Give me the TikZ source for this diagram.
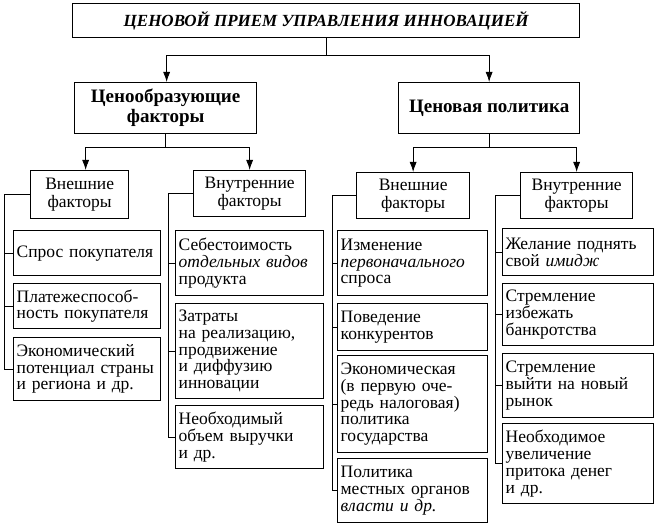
\documentclass[tikz,border=0pt]{standalone}
\usepackage{fontspec}
\setmainfont{Liberation Serif}
\usetikzlibrary{arrows.meta,positioning}
\tikzset{
  head/.style={
      draw, line width=1.3pt,
      anchor=north west, inner sep=0pt,
      font=\bfseries\itshape\fontsize{17}{20}\selectfont
  },
  group/.style={
      draw, line width=1.3pt,
      anchor=north west, inner sep=0pt, align=center,
      font=\bfseries\fontsize{19}{20}\selectfont
  },
  kind/.style={
      draw, line width=1.3pt,
      anchor=north west, inner sep=0pt, align=center,
      font=\fontsize{17.5}{18.3}\selectfont
  },
  item/.style={
      draw, line width=1.3pt,
      anchor=north west, inner xsep=3pt, inner ysep=0pt, align=left,
      font=\fontsize{17.5}{16.7}\selectfont
  },
  link/.style={line width=0.8pt},
  arr/.style={link, -{Latex[length=10pt,width=7pt]}}
}
\begin{document}
\begin{tikzpicture}[x=1pt,y=-1pt]
  \useasboundingbox (0,0) rectangle (654,526);
  % top levels
  \node[head, minimum width=507pt, minimum height=34pt] (title) at (72,3)
    {ЦЕНОВОЙ ПРИЕМ УПРАВЛЕНИЯ ИННОВАЦИЕЙ};
  \node[group, minimum width=182pt, minimum height=51pt] (cf) at (74,82)
    {Ценообразующие\\факторы};
  \node[group, minimum width=181pt, minimum height=51pt] (cp) at (398,82)
    {Ценовая политика};
  % kinds of factors
  \node[kind, minimum width=98pt, minimum height=48pt] (lext) at (30,170) {Внешние\\факторы};
  \node[kind, minimum width=112pt, minimum height=46pt] (lint) at (193,170) {Внутренние\\факторы};
  \node[kind, minimum width=113pt, minimum height=46pt] (rext) at (356,172) {Внешние\\факторы};
  \node[kind, minimum width=112pt, minimum height=46pt] (rint) at (520,172) {Внутренние\\факторы};
  % left external
  \node[item, text width=141pt, minimum height=45pt] (la) at (13,230) {Спрос покупателя};
  \node[item, text width=141pt, minimum height=45pt] (lb) at (13,283) {Платежеспособ-\\ность покупателя};
  \node[item, text width=141pt, minimum height=63pt] (lc) at (13,337) {Экономический\\потенциал страны\\и региона и др.};
  % left internal
  \node[item, text width=142pt, minimum height=65pt] (ma) at (175,230) {Себестоимость\\\textit{отдельных видов}\\продукта};
  \node[item, text width=142pt, minimum height=95pt] (mb) at (175,303) {Затраты\\на реализацию,\\продвижение\\и диффузию\\инновации};
  \node[item, text width=142pt, minimum height=63pt] (mc) at (175,405) {Необходимый\\объем выручки\\и др.};
  % right external
  \node[item, text width=144pt, minimum height=65pt] (na) at (337,230) {Изменение\\\textit{первоначального}\\спроса};
  \node[item, text width=144pt, minimum height=47pt] (nb) at (337,303) {Поведение\\конкурентов};
  \node[item, text width=144pt, minimum height=97pt] (nc) at (337,355) {Экономическая\\(в первую оче-\\редь налоговая)\\политика\\государства};
  \node[item, text width=144pt, minimum height=64pt] (nd) at (337,458) {Политика\\местных органов\\\textit{власти и др.}};
  % right internal
  \node[item, text width=145pt, minimum height=47pt] (pa) at (502,228) {Желание поднять\\свой \textit{имидж}};
  \node[item, text width=145pt, minimum height=62pt] (pb) at (502,283) {Стремление\\избежать\\банкротства};
  \node[item, text width=145pt, minimum height=64pt] (pc) at (502,353) {Стремление\\выйти на новый\\рынок};
  \node[item, text width=145pt, minimum height=80pt] (pd) at (502,423) {Необходимое\\увеличение\\притока денег\\и др.};

  % arrows
  \draw[link] (title.south) -- ++(0,17) coordinate (t1);
  \draw[arr] (t1) -| ([xshift=1pt]cf.north);
  \draw[arr] (t1) -| (cp.north);
  \draw[link] (cf.south) -- ++(0,13) coordinate (b1);
  \draw[arr] (b1) -| ([xshift=6pt]lext.north);
  \draw[arr] (b1) -| (lint.north);
  \draw[link] (cp.south) -- ++(0,13) coordinate (b2);
  \draw[arr] (b2) -| (rext.north);
  \draw[arr] (b2) -| (rint.north);

  % spines
  \coordinate (s1) at (4,0);
  \coordinate (s2) at (168,0);
  \coordinate (s3) at (332,0);
  \coordinate (s4) at (495,0);
  \foreach \k/\s/\last in {lext/s1/lc, lint/s2/mc, rext/s3/nd, rint/s4/pd}
    \draw[link] (\k.west) -| (\s |- \last.west) -- (\last.west);
  \foreach \n/\s in {la/s1, lb/s1, ma/s2, mb/s2, na/s3, nb/s3, nc/s3, pa/s4, pb/s4, pc/s4}
    \draw[link] (\s |- \n.west) -- (\n.west);
\end{tikzpicture}
\end{document}
